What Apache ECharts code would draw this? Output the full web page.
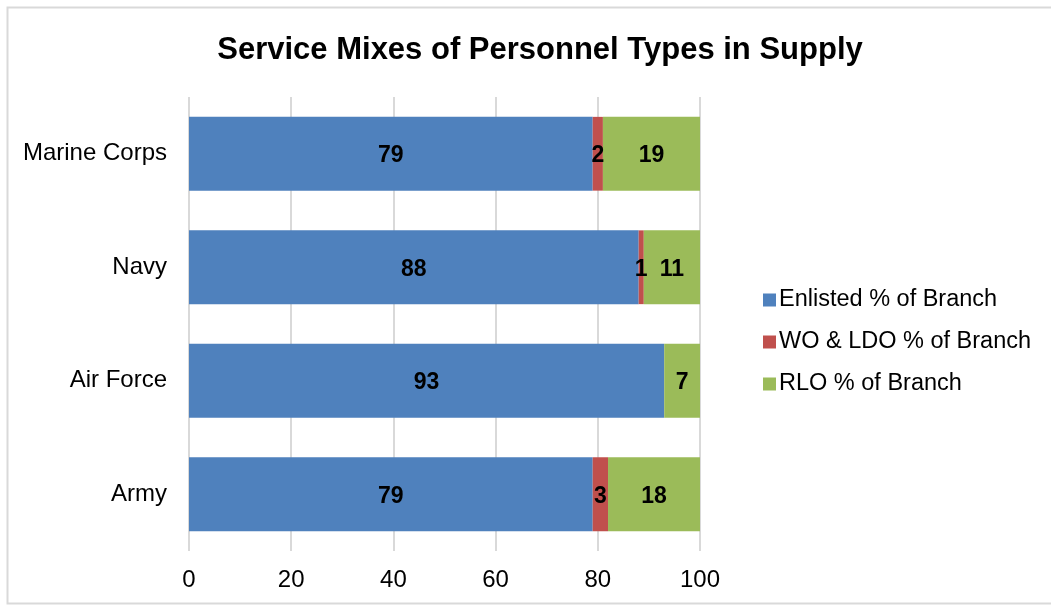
<!DOCTYPE html>
<html><head><meta charset="utf-8">
<script src="https://cdn.jsdelivr.net/npm/echarts@6/dist/echarts.min.js"></script>
<style>html,body{margin:0;padding:0;background:#fff}#c{width:1051px;height:606px}</style>
</head><body><div id="c"></div>
<script>
const categories = ['Army', 'Air Force', 'Navy', 'Marine Corps'];
const enlisted = [79, 93, 88, 79];
const woLdo = [3, 0, 1, 2];
const rlo = [18, 7, 11, 19];
const seriesNames = ['Enlisted % of Branch', 'WO & LDO % of Branch', 'RLO % of Branch'];
const colors = ['#4F81BD', '#C0504D', '#9BBB59'];
const xTicks = [0, 20, 40, 60, 80, 100];

const font = 'Liberation Sans, Arial, sans-serif';
const chart = echarts.init(document.getElementById('c'));
const lbl = {
  show: true, position: 'inside', color: '#000', fontWeight: 'bold', fontSize: 23, fontFamily: font,
  offset: [0, 2],
  formatter: p => p.value === 0 ? '' : String(p.value)
};
const mk = (name, data, color) => ({
  name, type: 'bar', stack: 'a', data, barWidth: '65%',
  itemStyle: { color }, label: lbl, emphasis: { disabled: true }
});
chart.setOption({
  animation: false,
  graphic: [{ type: 'rect', shape: { x: 7.5, y: 7.5, width: 1050, height: 596 },
    style: { fill: 'none', stroke: '#D9D9D9', lineWidth: 2 }, silent: true }],
  title: { text: 'Service Mixes of Personnel Types in Supply', left: 535, top: 30, textAlign: 'center',
    textStyle: { fontFamily: font, fontWeight: 'bold', fontSize: 31, color: '#000' } },
  legend: {
    orient: 'vertical', left: 758, top: 283, itemWidth: 13, itemHeight: 13, itemGap: 18, itemSymbolGap: 4,
    icon: 'rect', data: seriesNames,
    textStyle: { fontFamily: font, fontSize: 23.5, color: '#000', padding: [0, 0, 0, -2] }
  },
  grid: { left: 189, top: 97, width: 511, height: 454, containLabel: false },
  xAxis: {
    type: 'value', min: 0, max: 100, interval: 20,
    axisLine: { show: false }, axisTick: { show: false },
    splitLine: { show: true, lineStyle: { color: '#D9D9D9', width: 2 } },
    axisLabel: { fontFamily: font, fontSize: 24, color: '#000', margin: 17,
      formatter: v => xTicks.includes(v) ? String(v) : '' }
  },
  yAxis: {
    type: 'category', data: categories,
    axisLine: { show: false }, axisTick: { show: false },
    axisLabel: { fontFamily: font, fontSize: 24, color: '#000', margin: 22, padding: [4, 0, 0, 0] }
  },
  series: [mk(seriesNames[0], enlisted, colors[0]), mk(seriesNames[1], woLdo, colors[1]), mk(seriesNames[2], rlo, colors[2])]
});
</script></body></html>
